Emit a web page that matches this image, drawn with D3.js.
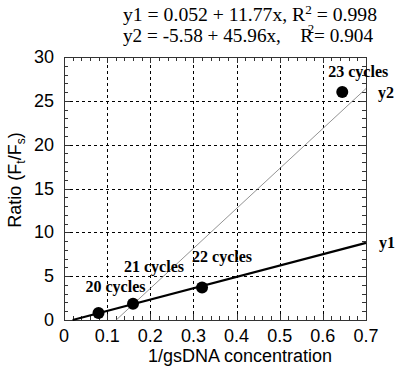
<!DOCTYPE html>
<html lang="en">
<head>
<meta charset="utf-8">
<title>Ratio vs 1/gsDNA</title>
<script src="https://d3js.org/d3.v7.min.js"></script>
<style>
  body { margin: 0; background: white; }
  .tick-label { font-family: "Liberation Sans", Arial, sans-serif; font-size: 18px; fill: black; }
  .axis-title { font-family: "Liberation Sans", Arial, sans-serif; font-size: 18px; fill: black; }
  .eq { font-family: "Liberation Serif", "Times New Roman", serif; font-size: 18px; fill: black; white-space: pre; }
  .cyc { font-family: "Liberation Serif", "Times New Roman", serif; font-size: 16px; font-weight: bold; fill: black; }
</style>
</head>
<body>
<svg width="400" height="374"></svg>
<script>
// data
const xVals = [0.08, 0.16, 0.32, 0.645];
const yVals = [0.8, 1.85, 3.7, 26.0];
const cycleLabels = ["20 cycles", "21 cycles", "22 cycles", "23 cycles"];

// fitted lines, as drawn (endpoints)
const y1LineX = [0.02, 0.7];
const y1LineY = [0.0, 8.8];
const y2LineX = [0.121, 0.7];
const y2LineY = [0.0, 26.4];

const xTicks = [0, 0.1, 0.2, 0.3, 0.4, 0.5, 0.6, 0.7];
const yTicks = [0, 5, 10, 15, 20, 25, 30];

const eqLeft = ["y1 = 0.052 + 11.77x, R", "y2 = -5.58 + 45.96x,    R"];
const eqRight = [" = 0.998", "= 0.904"];

// layout
const labelOffsets = [[-13, -21], [-9, -32], [-10, -26], [-14, -15]];

const svg = d3.select("svg");
const x = d3.scaleLinear().domain([0, 0.7]).range([64, 366]);
const y = d3.scaleLinear().domain([0, 30]).range([320, 57]);

// dashed grid
svg.append("g").selectAll("line.vg")
  .data(xTicks.slice(1, -1)).enter().append("line")
  .attr("x1", d => Math.round(x(d)) + 0.5).attr("x2", d => Math.round(x(d)) + 0.5)
  .attr("y1", y(0)).attr("y2", y(30))
  .attr("stroke", "#000").attr("stroke-width", 1)
  .attr("stroke-dasharray", "3,3");
svg.append("g").selectAll("line.hg")
  .data(yTicks.slice(1, -1)).enter().append("line")
  .attr("y1", d => Math.round(y(d)) + 0.5).attr("y2", d => Math.round(y(d)) + 0.5)
  .attr("x1", x(0)).attr("x2", x(0.7))
  .attr("stroke", "#000").attr("stroke-width", 1)
  .attr("stroke-dasharray", "3,3");

// frame
svg.append("rect")
  .attr("x", x(0) + 0.5).attr("y", y(30) + 0.5)
  .attr("width", x(0.7) - x(0)).attr("height", y(0) - y(30))
  .attr("fill", "none").attr("stroke", "#333").attr("stroke-width", 1);

// minor ticks, inward on all four sides
const xMinor = d3.range(0, 36).map(i => i * 0.02).filter(v => v <= 0.7001);
const yMinor = d3.range(0, 31);
const tk = svg.append("g").attr("stroke", "#333").attr("stroke-width", 1);
xMinor.forEach(v => {
  const len = Math.abs(v * 10 - Math.round(v * 10)) < 1e-6 ? 6 : 4;
  const px = Math.round(x(v)) + 0.5;
  tk.append("line").attr("x1", px).attr("x2", px).attr("y1", y(0)).attr("y2", y(0) - len);
  tk.append("line").attr("x1", px).attr("x2", px).attr("y1", y(30)).attr("y2", y(30) + len);
});
yMinor.forEach(v => {
  const len = v % 5 === 0 ? 6 : 4;
  const py = Math.round(y(v)) + 0.5;
  tk.append("line").attr("y1", py).attr("y2", py).attr("x1", x(0)).attr("x2", x(0) + len);
  tk.append("line").attr("y1", py).attr("y2", py).attr("x1", x(0.7)).attr("x2", x(0.7) - len);
});

// tick labels
svg.append("g").selectAll("text")
  .data(xTicks).enter().append("text")
  .attr("class", "tick-label")
  .attr("x", d => x(d)).attr("y", 342)
  .attr("text-anchor", "middle")
  .text(d => d === 0 ? "0" : d3.format(".1f")(d));
svg.append("g").selectAll("text")
  .data(yTicks).enter().append("text")
  .attr("class", "tick-label")
  .attr("x", 54).attr("y", d => y(d) + 6)
  .attr("text-anchor", "end")
  .text(d => d);

// axis titles
svg.append("text").attr("class", "axis-title")
  .attr("x", 240).attr("y", 362).attr("text-anchor", "middle")
  .text("1/gsDNA concentration");
const yt = svg.append("text").attr("class", "axis-title")
  .attr("transform", "translate(21,180) rotate(-90)")
  .attr("text-anchor", "middle");
yt.append("tspan").text("Ratio (F");
yt.append("tspan").attr("font-size", "12px").attr("dy", 4).text("t");
yt.append("tspan").attr("dy", -4).text("/F");
yt.append("tspan").attr("font-size", "12px").attr("dy", 4).text("s");
yt.append("tspan").attr("dy", -4).text(")");

// fit lines
const line = d3.line().x(d => x(d[0])).y(d => y(d[1]));
svg.append("path")
  .attr("d", line(d3.zip(y2LineX, y2LineY)))
  .attr("stroke", "#777").attr("stroke-width", 0.8).attr("fill", "none");
svg.append("path")
  .attr("d", line(d3.zip(y1LineX, y1LineY)))
  .attr("stroke", "black").attr("stroke-width", 2.2).attr("fill", "none");

// points
svg.append("g").selectAll("circle")
  .data(d3.zip(xVals, yVals)).enter().append("circle")
  .attr("cx", d => x(d[0])).attr("cy", d => y(d[1]))
  .attr("r", 6).attr("fill", "black");

// cycle labels
svg.append("g").selectAll("text")
  .data(cycleLabels).enter().append("text")
  .attr("class", "cyc")
  .attr("x", (d, i) => x(xVals[i]) + labelOffsets[i][0])
  .attr("y", (d, i) => y(yVals[i]) + labelOffsets[i][1])
  .text(d => d);

// line names
svg.append("text").attr("class", "cyc").attr("font-size", "16px")
  .attr("x", 379).attr("y", y(y1LineY[1]) + 5).text("y1");
svg.append("text").attr("class", "cyc").attr("font-size", "16px")
  .attr("x", 378).attr("y", y(y2LineY[1]) + 9).text("y2");

// equations, stretched to the width they take in the figure
const e1 = svg.append("text").attr("class", "eq").attr("x", 123).attr("y", 21)
  .attr("textLength", 254).attr("lengthAdjust", "spacingAndGlyphs");
e1.append("tspan").text(eqLeft[0]);
e1.append("tspan").attr("font-size", "12px").attr("dy", -7).text("2");
e1.append("tspan").attr("dy", 7).text(eqRight[0]);
const e2 = svg.append("text").attr("class", "eq").attr("x", 123).attr("y", 42)
  .attr("textLength", 250).attr("lengthAdjust", "spacingAndGlyphs");
e2.append("tspan").text(eqLeft[1]);
e2.append("tspan").attr("font-size", "12px").attr("dy", -9).attr("dx", -5).text("2");
e2.append("tspan").attr("dy", 9).text(eqRight[1]);
</script>
</body>
</html>
